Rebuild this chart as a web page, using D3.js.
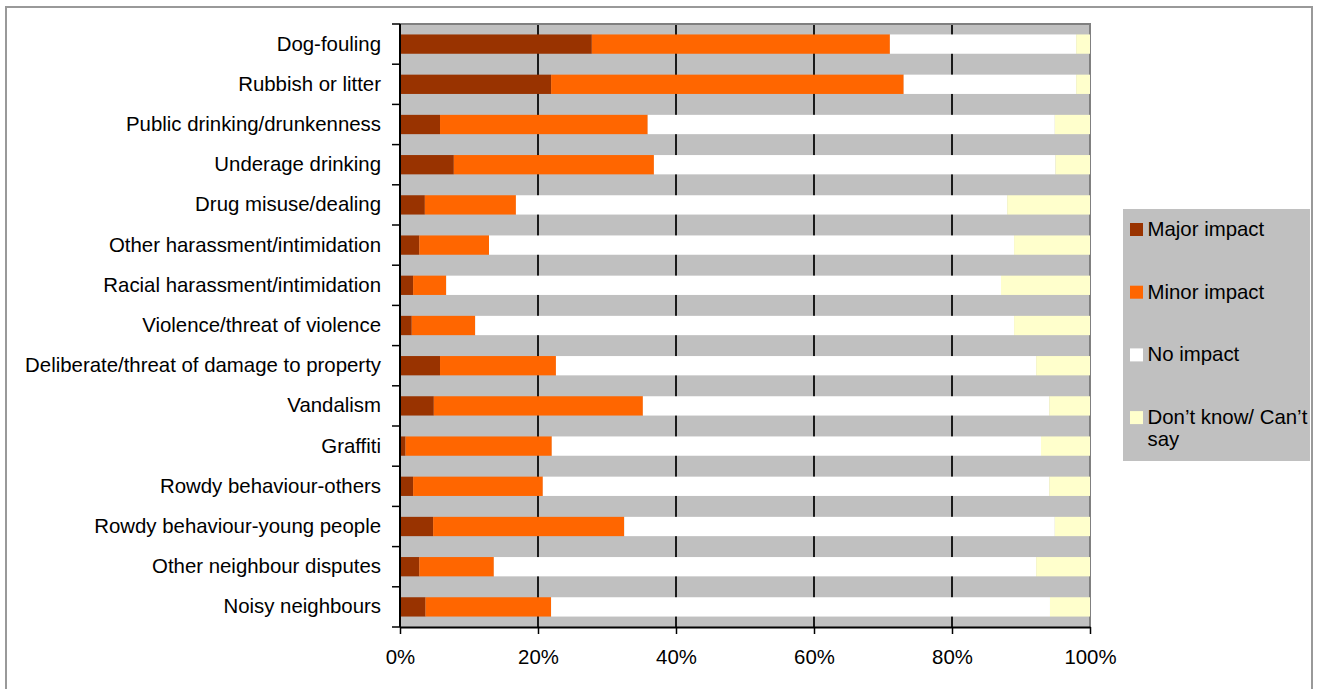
<!DOCTYPE html>
<html>
<head>
<meta charset="utf-8">
<script src="https://cdn.jsdelivr.net/npm/d3@7"></script>
<style>
  html, body { margin: 0; padding: 0; background: #fff; }
  svg { display: block; font-family: "Liberation Sans", Arial, sans-serif; }
</style>
</head>
<body>
<svg id="chart" width="1318" height="689"></svg>
<script>
// Perceived impact of anti-social behaviour, share of respondents (%)
const categories = [
  "Dog-fouling",
  "Rubbish or litter",
  "Public drinking/drunkenness",
  "Underage drinking",
  "Drug misuse/dealing",
  "Other harassment/intimidation",
  "Racial harassment/intimidation",
  "Violence/threat of violence",
  "Deliberate/threat of damage to property",
  "Vandalism",
  "Graffiti",
  "Rowdy behaviour-others",
  "Rowdy behaviour-young people",
  "Other neighbour disputes",
  "Noisy neighbours"
];
const majorImpact = [27.8, 21.9, 5.8, 7.8, 3.6, 2.8, 1.9, 1.7, 5.8, 4.9, 0.8, 1.9, 4.8, 2.8, 3.7];
const minorImpact = [43.2, 51.1, 30.1, 29.0, 13.2, 10.1, 4.8, 9.2, 16.8, 30.3, 21.2, 18.8, 27.7, 10.8, 18.2];
const noImpact    = [27.0, 25.0, 59.0, 58.2, 71.2, 76.1, 80.4, 78.1, 69.6, 58.9, 70.9, 73.4, 62.4, 78.6, 72.3];
const dontKnow    = [2.0, 2.0, 5.1, 5.0, 12.0, 11.0, 12.9, 11.0, 7.8, 5.9, 7.1, 5.9, 5.1, 7.8, 5.8];
const seriesNames = ["Major impact", "Minor impact", "No impact", "Don\u2019t know/ Can\u2019t say"];
const seriesColors = ["#993300", "#FF6600", "#FFFFFF", "#FFFFCC"];
const xTicks = [0, 20, 40, 60, 80, 100];

const FONT = "20.4px";
const svg = d3.select("#chart");
const plot = { left: 400, right: 1090, top: 24, bottom: 627 };

// outer frame
svg.append("rect")
  .attr("x", 6).attr("y", 7).attr("width", 1306).attr("height", 720)
  .attr("fill", "#fff").attr("stroke", "#999").attr("stroke-width", 2);

const x = d3.scaleLinear().domain([0, 100]).range([plot.left, plot.right]);
const y = d3.scaleBand().domain(categories)
  .range([plot.top, plot.bottom])
  .paddingInner(0.52).paddingOuter(0.26);

// plot background
svg.append("rect")
  .attr("x", plot.left).attr("y", plot.top)
  .attr("width", plot.right - plot.left).attr("height", plot.bottom - plot.top)
  .attr("fill", "#C0C0C0");

// vertical gridlines
svg.append("g").selectAll("line")
  .data(xTicks.filter(t => t > 0 && t < 100))
  .join("line")
  .attr("x1", d => x(d)).attr("x2", d => x(d))
  .attr("y1", plot.top).attr("y2", plot.bottom)
  .attr("stroke", "#1a1a1a").attr("stroke-width", 2);

// plot border (top and right)
svg.append("path")
  .attr("d", `M${plot.left},${plot.top}H${plot.right}V${plot.bottom}`)
  .attr("fill", "none").attr("stroke", "#808080").attr("stroke-width", 2);

// stacked bars
const rows = categories.map((c, i) => ({
  cat: c, s0: majorImpact[i], s1: minorImpact[i], s2: noImpact[i], s3: dontKnow[i]
}));
const stack = d3.stack().keys(["s0", "s1", "s2", "s3"]);
const layers = stack(rows);

svg.append("g").selectAll("g")
  .data(layers)
  .join("g")
  .attr("fill", (d, i) => seriesColors[i])
  .selectAll("rect")
  .data(d => d)
  .join("rect")
  .attr("x", d => x(d[0]))
  .attr("width", d => x(Math.min(d[1], 100)) - x(d[0]))
  .attr("y", d => y(d.data.cat))
  .attr("height", y.bandwidth());

// category axis
const yAxis = svg.append("g")
  .attr("transform", `translate(${plot.left},0)`)
  .call(d3.axisLeft(y).tickSize(0).tickPadding(19));
yAxis.select(".domain").remove();
yAxis.selectAll("text")
  .attr("font-size", FONT).attr("fill", "#000")
  .attr("font-family", "\"Liberation Sans\", Arial, sans-serif");

// category boundary ticks
const bounds = d3.range(categories.length + 1).map(i => plot.top + i * y.step());
svg.append("g").selectAll("line")
  .data(bounds)
  .join("line")
  .attr("x1", plot.left - 8).attr("x2", plot.left)
  .attr("y1", d => d).attr("y2", d => d)
  .attr("stroke", "#000").attr("stroke-width", 1.5);

svg.append("line")
  .attr("x1", plot.left).attr("x2", plot.left)
  .attr("y1", plot.top).attr("y2", plot.bottom)
  .attr("stroke", "#000").attr("stroke-width", 2);

// value axis
const xAxis = svg.append("g")
  .attr("transform", `translate(0,${plot.bottom})`)
  .call(d3.axisBottom(x).tickValues(xTicks).tickFormat(d => d + "%")
    .tickSize(7).tickSizeOuter(0).tickPadding(16));
xAxis.select(".domain").attr("stroke", "#000").attr("stroke-width", 2);
xAxis.selectAll(".tick line").attr("stroke", "#000").attr("stroke-width", 1.5);
xAxis.selectAll("text")
  .attr("font-size", FONT).attr("fill", "#000")
  .attr("font-family", "\"Liberation Sans\", Arial, sans-serif");

// legend
const legend = svg.append("g");
legend.append("rect")
  .attr("x", 1123).attr("y", 209).attr("width", 187).attr("height", 252)
  .attr("fill", "#C0C0C0");
const entries = legend.selectAll("g.entry")
  .data(seriesNames)
  .join("g").attr("class", "entry")
  .attr("transform", (d, i) => `translate(1130,${223 + i * 62.7})`);
entries.append("rect")
  .attr("width", 13).attr("height", 13)
  .attr("fill", (d, i) => seriesColors[i]);
entries.each(function(d) {
  const parts = d === seriesNames[3] ? ["Don\u2019t know/ Can\u2019t", "say"] : [d];
  const t = d3.select(this).append("text")
    .attr("font-size", FONT).attr("fill", "#000");
  parts.forEach((p, j) => {
    t.append("tspan").attr("x", 17.5).attr("y", 13 + j * 22).text(p);
  });
});
</script>
</body>
</html>
